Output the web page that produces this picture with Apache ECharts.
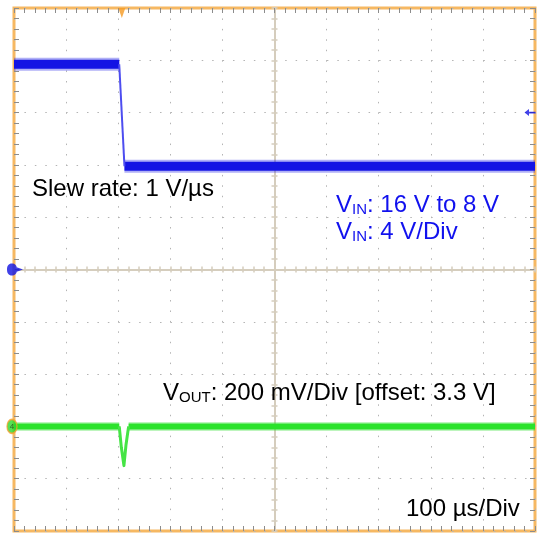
<!DOCTYPE html>
<html><head><meta charset="utf-8">
<script src="https://cdn.jsdelivr.net/npm/echarts@6/dist/echarts.min.js"></script>
<style>html,body{margin:0;padding:0;background:#fff}#c{width:544px;height:533px}</style>
</head><body><div id="c"></div>
<script>
// ---- data ----
const vinTimeUs = [0, 202, 212, 1000];          // VIN step 16 V -> 8 V
const vinVolts  = [15.7, 15.7, 7.9, 7.9];
const voutTimeUs = [0, 202, 206, 211, 215, 220, 1000];
const voutVolts  = [3.30, 3.30, 3.22, 3.15, 3.23, 3.30, 3.30];
const triggerTimeUs = 207;
const triggerLevelV = 12;
const ch1GroundV = 0;
const ch4OffsetV = 3.3;
// axis ranges: 10 divisions each way
const timeRange = [0, 1000];      // 100 us/div
const vinRange  = [-20, 20];      // 4 V/div
const voutRange = [2.9, 4.9];     // 200 mV/div, offset 3.3 V
const centerRange = [-500, 500];

const FONT = '"Liberation Sans", Arial, sans-serif';
const FS = 24, SUB = 15;
const tickColor = '#8c8c8c';
const dotStyle = {color:'#b4b4b4', width:1, type:[1.5, 8.93]};
const crossColor = '#d5cdbd';

function pts(t, v, a, b){ const o=[]; for(let i=a;i<=b;i++) o.push([t[i], v[i]]); return o; }

function borderX(pos, split){
  return {type:'value', min:timeRange[0], max:timeRange[1], interval:100, position:pos,
    axisLine:{show:false, onZero:false}, axisLabel:{show:false},
    axisTick:{show:true, inside:true, length:5, lineStyle:{color:tickColor}},
    minorTick:{show:true, splitNumber:5, length:5, lineStyle:{color:tickColor}},
    splitLine:{show:split, lineStyle:dotStyle}};
}
function borderY(pos, split){
  return {type:'value', min:vinRange[0], max:vinRange[1], interval:4, position:pos,
    axisLine:{show:false, onZero:false}, axisLabel:{show:false},
    axisTick:{show:true, inside:true, length:5, lineStyle:{color:tickColor}},
    minorTick:{show:true, splitNumber:5, length:5, lineStyle:{color:tickColor}},
    splitLine:{show:split, lineStyle:dotStyle}};
}
function centerX(inside){
  return {type:'value', min:centerRange[0], max:centerRange[1], interval:100, position:'bottom',
    axisLine:{show:true, onZero:true, onZeroAxisIndex:0, lineStyle:{color:crossColor, width:2}},
    axisLabel:{show:false},
    axisTick:{show:true, inside:inside, length:3, lineStyle:{color:crossColor, width:1.5}},
    minorTick:{show:true, splitNumber:5, length:3, lineStyle:{color:crossColor, width:1.5}},
    splitLine:{show:false}};
}
function centerY(inside){
  return {type:'value', min:vinRange[0], max:vinRange[1], interval:4, position:'left',
    axisLine:{show:true, onZero:true, onZeroAxisIndex:2, lineStyle:{color:crossColor, width:2}},
    axisLabel:{show:false},
    axisTick:{show:true, inside:inside, length:3, lineStyle:{color:crossColor, width:1.5}},
    minorTick:{show:true, splitNumber:5, length:3, lineStyle:{color:crossColor, width:1.5}},
    splitLine:{show:false}};
}

function line(data, yIdx, color, width, z){
  return {type:'line', xAxisIndex:0, yAxisIndex:yIdx, data:data, symbol:'none', showSymbol:false,
    animation:false, silent:true, z:z, lineStyle:{color:color, width:width, cap:'butt', join:'round'}};
}

const blueCore = '#1414e4', blueHalo = 'rgba(30,30,230,0.35)', blueEdge = '#4d4df0';
const greenCore = '#2ae22a', greenHalo = 'rgba(50,225,50,0.32)', greenDip = '#45e445';

const vinHigh = pts(vinTimeUs, vinVolts, 0, 1);
const vinEdge = pts(vinTimeUs, vinVolts, 1, 2);
const vinLow  = pts(vinTimeUs, vinVolts, 2, 3);
const voutPre  = pts(voutTimeUs, voutVolts, 0, 1);
const voutDip  = pts(voutTimeUs, voutVolts, 1, 5);
const voutPost = pts(voutTimeUs, voutVolts, 5, 6);

const series = [
  line(vinHigh, 0, blueHalo, 13, 3), line(vinLow, 0, blueHalo, 13, 3),
  line(vinHigh, 0, blueCore, 9, 4), line(vinLow, 0, blueCore, 9, 4),
  line(vinEdge, 0, blueEdge, 2, 4),
  line(voutPre, 2, greenHalo, 9, 3), line(voutPost, 2, greenHalo, 9, 3),
  line(voutPre, 2, greenCore, 6, 4), line(voutPost, 2, greenCore, 6, 4),
  line(voutDip, 2, greenDip, 3, 4),
  // channel 1 ground marker
  {type:'scatter', xAxisIndex:0, yAxisIndex:0, data:[[timeRange[0], ch1GroundV]], clip:false, z:10, animation:false, silent:true,
   symbol:'path://M5,0 C8.5,0 10,2.5 10,6 C10,9.5 8.5,12 5,12 C1.5,12 0,9.5 0,6 C0,2.5 1.5,0 5,0 Z M9,3.5 L16,6 L9,8.5 Z',
   symbolSize:[16,12], symbolOffset:[1,0], itemStyle:{color:'#1010e0'}},
  // channel 4 offset marker
  {type:'scatter', xAxisIndex:0, yAxisIndex:2, data:[[timeRange[0], ch4OffsetV]], clip:false, z:10, animation:false, silent:true,
   symbol:'circle', symbolSize:[10,14], symbolOffset:[-2,0],
   itemStyle:{color:'#2ad82a', borderColor:'#f5a030', borderWidth:1.5},
   label:{show:true, position:'inside', formatter:'4', fontSize:8, color:'#1d4d1d', fontFamily:FONT}},
  // trigger level arrow (right)
  {type:'scatter', xAxisIndex:0, yAxisIndex:0, data:[[timeRange[1], triggerLevelV]], clip:false, z:10, animation:false, silent:true,
   symbol:'path://M0,3.5 L4.5,0 L4.5,2.6 L11,2.6 L11,4.4 L4.5,4.4 L4.5,7 Z', symbolSize:[11,7], symbolOffset:[-5,0],
   itemStyle:{color:'#1414e4'}},
  // trigger position marker (top)
  {type:'scatter', xAxisIndex:0, yAxisIndex:0, data:[[triggerTimeUs, vinRange[1]]], clip:false, z:10, animation:false, silent:true,
   symbol:'path://M0,0 L8,0 L4,10 Z', symbolSize:[7,10], symbolOffset:[0,5],
   itemStyle:{color:'#f59a22'}}
];

function rich(color){
  return {n:{fontSize:FS, fontFamily:FONT, color:color, verticalAlign:'bottom'},
          s:{fontSize:SUB, fontFamily:FONT, color:color, verticalAlign:'bottom'}};
}

const option = {
  backgroundColor:'#ffffff',
  animation:false,
  grid:{left:14, top:8, right:9, bottom:2, show:true, borderColor:'#f6b862', borderWidth:3, backgroundColor:'transparent', containLabel:false},
  xAxis:[borderX('bottom', true), borderX('top', false), centerX(true), centerX(false)],
  yAxis:[borderY('left', true), borderY('right', false),
         {type:'value', min:voutRange[0], max:voutRange[1], show:false, axisLine:{onZero:false}},
         centerY(true), centerY(false)],
  series: series,
  graphic:[
    {type:'text', x:32, y:189, z:20, style:{text:'Slew rate: 1 V/µs', font:FS+'px '+FONT, fill:'#000', verticalAlign:'middle', textVerticalAlign:'middle'}},
    {type:'text', x:336, y:205, z:20, style:{text:'{n|V}{s|IN}{n|: 16 V to 8 V}', fill:'#1111ee', verticalAlign:'middle', textVerticalAlign:'middle', rich:rich('#1111ee')}},
    {type:'text', x:336, y:232, z:20, style:{text:'{n|V}{s|IN}{n|: 4 V/Div}', fill:'#1111ee', verticalAlign:'middle', textVerticalAlign:'middle', rich:rich('#1111ee')}},
    {type:'text', x:163, y:393, z:20, style:{text:'{n|V}{s|OUT}{n|: 200 mV/Div [offset: 3.3 V]}', fill:'#000', verticalAlign:'middle', textVerticalAlign:'middle', rich:rich('#000')}},
    {type:'text', x:406, y:509, z:20, style:{text:'100 µs/Div', font:FS+'px '+FONT, fill:'#000', verticalAlign:'middle', textVerticalAlign:'middle'}}
  ]
};
const chart = echarts.init(document.getElementById('c'), null, {renderer:'canvas'});
chart.setOption(option);
</script></body></html>
